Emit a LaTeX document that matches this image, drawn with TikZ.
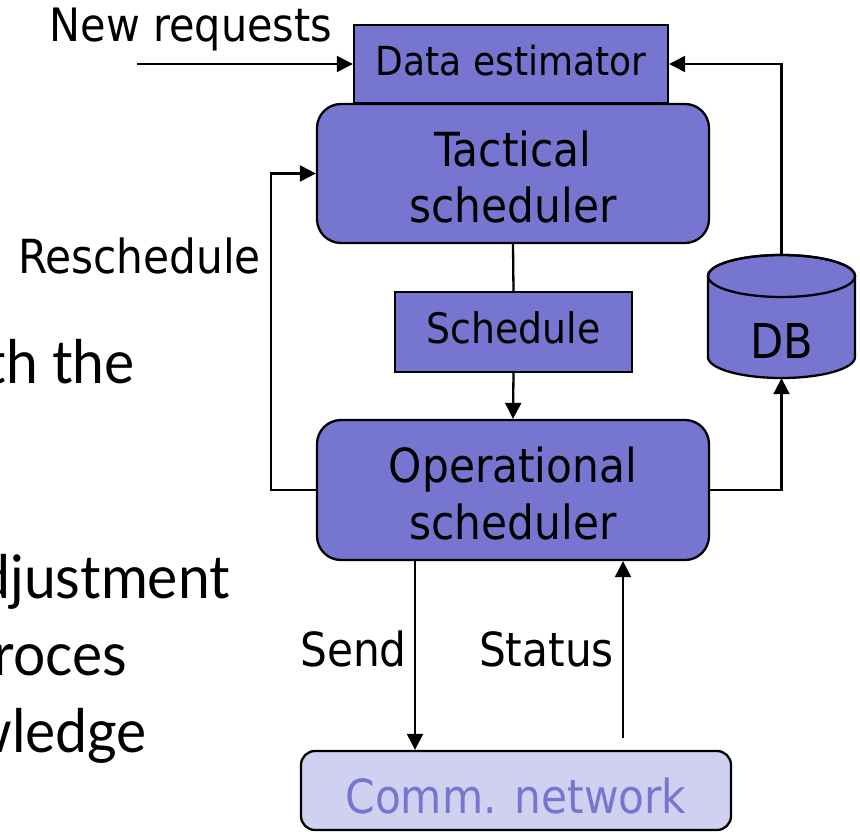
\documentclass[tikz,border=0pt]{standalone}
\usepackage{fontspec}
\setmainfont{DejaVu Sans Condensed}
\newfontfamily\bodyfont[FakeStretch=0.95]{Lato}
\usetikzlibrary{arrows.meta}
\definecolor{boxfill}{RGB}{118,118,208}
\definecolor{netfill}{RGB}{208,208,240}
\definecolor{nettext}{RGB}{118,118,208}

\begin{document}
\begin{tikzpicture}[x=1pt,y=-1pt,
  box/.style={draw=black, line width=2.3pt, fill=boxfill, inner sep=0pt, align=center},
  rbox/.style={box, rounded corners=24pt},
  lbl/.style={inner sep=0pt, anchor=base},
  link/.style={line width=2.3pt},
  arr/.style={link, -{Triangle[length=16pt,width=16pt]}},
  big/.style={font=\fontsize{47}{56.5}\selectfont},
  slidetext/.style={inner sep=0pt, anchor=base east, font=\bodyfont\fontsize{60}{72}\selectfont}
]
\useasboundingbox (0,0) rectangle (860,832);

% body text of the slide, cut by the left edge
\begin{scope}
  \clip (0,0) rectangle (300,832);
  \node[slidetext] (t1) at (135,383) {with the};
  \node[slidetext] (t2) at (230,598) {adjustment};
  \node[slidetext] (t3) at (127,675) {roces};
  \node[slidetext] (t4) at (147,752) {knowledge};
\end{scope}

% boxes
\node[box, minimum width=314pt, minimum height=78pt, text height=24pt, text depth=0pt,
      font=\fontsize{40}{48}\selectfont] (est) at (511,64) {Data estimator};
\node[rbox, big, minimum width=392pt, minimum height=139pt]
      (tact) at (513,173.5) {\rule{0pt}{43pt}Tactical\\scheduler};
\node[box, minimum width=237pt, minimum height=80pt, text height=22pt, text depth=0pt,
      font=\fontsize{42}{50}\selectfont] (sched) at (513.5,332) {Schedule};
\node[rbox, big, minimum width=392pt, minimum height=140pt]
      (oper) at (513,490) {\rule{0pt}{43pt}Operational\\scheduler};
\node[box, rounded corners=14pt, fill=netfill, text=nettext, big,
      minimum width=430pt, minimum height=79pt, text height=45pt, text depth=0pt]
      (comm) at (516,790.5) {Comm. network};

% database cylinder
\filldraw[link, fill=boxfill] (708,276) -- (708,357)
  arc[start angle=180, end angle=360, x radius=73.5pt, y radius=21pt]
  -- (855,276)
  arc[start angle=0, end angle=180, x radius=73.5pt, y radius=21pt] -- cycle;
\draw[link] (781.5,276) ellipse[x radius=73.5pt, y radius=21pt];
\node[inner sep=0pt, minimum width=147pt, minimum height=123pt] (db) at (781.5,316.5) {};
\node[lbl, font=\fontsize{48}{56}\selectfont] (dbl) at (781.5,358) {DB};

% labels
\node[lbl, font=\fontsize{46}{54}\selectfont] (newreq) at (191,42) {New requests};
\node[lbl, big] (resch) at (139.5,273) {Reschedule};
\node[lbl, big] (send) at (353.5,666) {Send};
\node[lbl, big] (status) at (546.5,666) {Status};

% connectors
\coordinate (nrstart) at (137,64);
\draw[arr] (nrstart) -- (est.west);
\draw[arr] (db.north) |- (est.east);
\draw[link] (tact.south) -- (sched.north);
\draw[arr] (sched.south) -- (oper.north);
\draw[arr] (oper.east) -| (db.south);
\draw[arr] (oper.west) -- ++(-45,0) |- (tact.west);
\coordinate (sendtop) at (415,560);
\draw[arr] (sendtop) -- (sendtop |- comm.north);
\coordinate (stbot) at (623,738);
\draw[arr] (stbot) -- (stbot |- oper.south);
\end{tikzpicture}
\end{document}
